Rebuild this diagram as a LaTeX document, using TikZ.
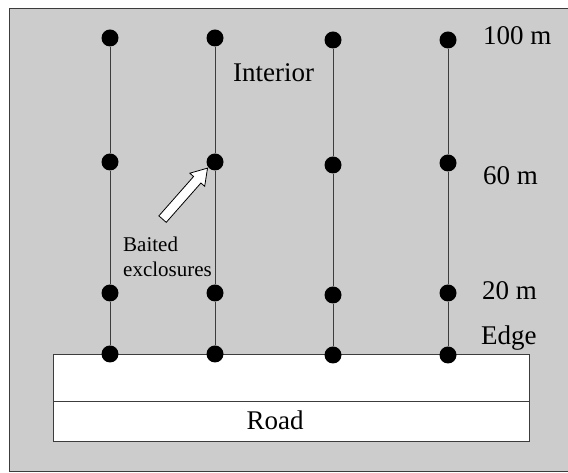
\documentclass[tikz,border=0pt]{standalone}
\usepackage{fontspec}
\setmainfont{Liberation Serif}
\usepackage{tikz}
\usetikzlibrary{shapes,positioning}
\usepackage{xcolor}
\definecolor{plotgray}{RGB}{204,204,204}
\definecolor{linegray}{RGB}{60,60,60}
\tikzstyle{dot} = [circle, fill=black, inner sep=0pt, minimum size=17pt]
\tikzstyle{transect} = [line width=0.8pt, color=linegray]
\tikzstyle{label} = [inner sep=0pt, anchor=base west, font=\fontsize{27}{32}\selectfont]
\tikzstyle{pointer} = [single arrow, draw=black, fill=white, thick, inner sep=4.5pt, minimum height=68pt, single arrow head extend=5pt, single arrow tip angle=65]

\begin{document}
\begin{tikzpicture}[x=1pt, y=1pt]
\useasboundingbox (0,0) rectangle (568,473);
% Forest plot and road
\draw[fill=plotgray, draw=linegray, line width=0.8pt] (9,2) rectangle (572,465);
\draw[fill=white, draw=linegray, line width=0.8pt] (53,32) rectangle (529,119);
\draw[line width=0.6pt, linegray] (53,72) -- (529,72);
\node[inner sep=0pt, anchor=base, font=\fontsize{27}{32}\selectfont] (road) at (275,43) {Road};

% Transect 1
\node[dot] (a100) at (110,435) {};
\node[dot] (a60) at (110,311) {};
\node[dot] (a20) at (110,180) {};
\node[dot] (a0) at (110,119) {};
% Transect 2
\node[dot] (b100) at (215,435) {};
\node[dot] (b60) at (215,311) {};
\node[dot] (b20) at (215,180) {};
\node[dot] (b0) at (215,119) {};
% Transect 3
\node[dot] (c100) at (333,433) {};
\node[dot] (c60) at (333,308) {};
\node[dot] (c20) at (333,178) {};
\node[dot] (c0) at (333,118) {};
% Transect 4
\node[dot] (d100) at (448,433) {};
\node[dot] (d60) at (448,310) {};
\node[dot] (d20) at (448,180) {};
\node[dot] (d0) at (448,118) {};

% Transect lines
\draw[transect] (a100) -- (a60) -- (a20) -- (a0);
\draw[transect] (b100) -- (b60) -- (b20) -- (b0);
\draw[transect] (c100) -- (c60) -- (c20) -- (c0);
\draw[transect] (d100) -- (d60) -- (d20) -- (d0);

% Distance labels
\node[label] (l100) at (483,428) {100 m};
\node[label] (l60) at (483,288) {60 m};
\node[label] (l20) at (482,173) {20 m};
\node[label] (edge) at (481,128) {Edge};
\node[label] (interior) at (233,391) {Interior};

% Baited exclosures
\node[inner sep=0pt, anchor=base west, align=left, font=\fontsize{21}{25}\selectfont] (bait) at (123,196) {Baited\\exclosures};
\node[pointer, rotate=48.6] (baitarrow) at (182.5,276.5) {};
\end{tikzpicture}
\end{document}
